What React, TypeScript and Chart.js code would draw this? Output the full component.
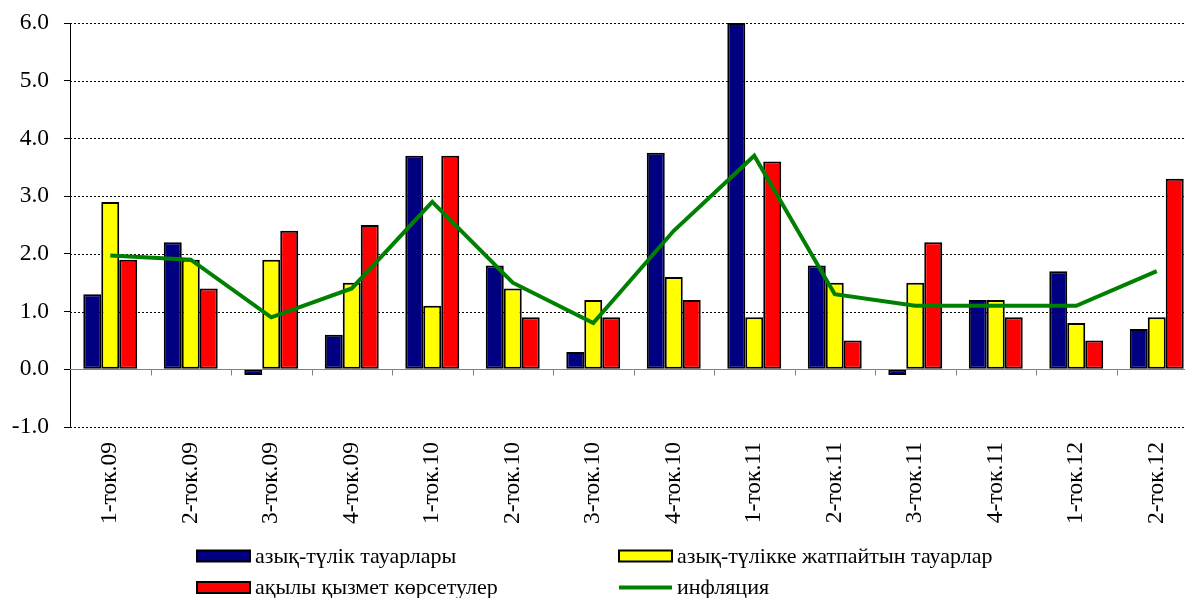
import React, { useEffect, useRef } from "react";
import { Chart, registerables } from "chart.js";

Chart.register(...registerables);

const categories = [
  "1-ток.09", "2-ток.09", "3-ток.09", "4-ток.09",
  "1-ток.10", "2-ток.10", "3-ток.10", "4-ток.10",
  "1-ток.11", "2-ток.11", "3-ток.11", "4-ток.11",
  "1-ток.12", "2-ток.12",
];
const foodGoods = [1.3, 2.2, -0.1, 0.6, 3.7, 1.8, 0.3, 3.75, 6.0, 1.8, -0.1, 1.2, 1.7, 0.7];
const nonFoodGoods = [2.9, 1.9, 1.9, 1.5, 1.1, 1.4, 1.2, 1.6, 0.9, 1.5, 1.5, 1.2, 0.8, 0.9];
const paidServices = [1.9, 1.4, 2.4, 2.5, 3.7, 0.9, 0.9, 1.2, 3.6, 0.5, 2.2, 0.9, 0.5, 3.3];
const inflation = [1.97, 1.9, 0.9, 1.4, 2.9, 1.5, 0.8, 2.4, 3.7, 1.3, 1.1, 1.1, 1.1, 1.7];
const yTicks = [-1, 0, 1, 2, 3, 4, 5, 6];

const FONT = "'Liberation Serif', 'Times New Roman', serif";

const gridPlugin = {
  id: "customGrid",
  beforeDatasetsDraw(chart: any) {
    const { ctx, chartArea, scales } = chart;
    const y = scales.y;
    ctx.save();
    ctx.lineWidth = 1;
    ctx.strokeStyle = "#000";
    ctx.setLineDash([2, 2]);
    yTicks.forEach((v) => {
      if (v === 0) return;
      const py = Math.round(y.getPixelForValue(v)) + 0.5;
      ctx.beginPath();
      ctx.moveTo(chartArea.left, py);
      ctx.lineTo(chartArea.right, py);
      ctx.stroke();
    });
    ctx.setLineDash([]);
    const y0 = Math.round(y.getPixelForValue(0)) + 0.5;
    ctx.strokeStyle = "#808080";
    ctx.beginPath();
    ctx.moveTo(chartArea.left, y0);
    ctx.lineTo(chartArea.right, y0);
    ctx.stroke();
    const n = categories.length;
    const w = (chartArea.right - chartArea.left) / n;
    for (let i = 1; i < n; i++) {
      const px = Math.round(chartArea.left + i * w) + 0.5;
      ctx.beginPath();
      ctx.moveTo(px, y0);
      ctx.lineTo(px, y0 + 6);
      ctx.stroke();
    }
    ctx.restore();
  },
};

const legendPlugin = {
  id: "customLegend",
  afterDraw(chart: any) {
    const { ctx } = chart;
    const ds = chart.data.datasets;
    const items = [
      { d: ds[1], x: 197, y: 556 },
      { d: ds[2], x: 619, y: 556 },
      { d: ds[3], x: 197, y: 587.5 },
      { d: ds[0], x: 619, y: 587.5 },
    ];
    ctx.save();
    ctx.font = `22px ${FONT}`;
    ctx.textBaseline = "middle";
    ctx.fillStyle = "#000";
    items.forEach(({ d, x, y }) => {
      if (d.type === "line") {
        ctx.strokeStyle = d.borderColor;
        ctx.lineWidth = 4;
        ctx.beginPath();
        ctx.moveTo(x, y);
        ctx.lineTo(x + 53, y);
        ctx.stroke();
      } else {
        ctx.fillStyle = d.backgroundColor;
        ctx.fillRect(x, y - 5.5, 53, 11);
        ctx.strokeStyle = "#000";
        ctx.lineWidth = 2;
        ctx.strokeRect(x, y - 5.5, 53, 11);
      }
      ctx.fillStyle = "#000";
      ctx.fillText(d.label, x + 58, y + 1);
    });
    ctx.restore();
  },
};

export default function App() {
  const ref = useRef<HTMLCanvasElement | null>(null);
  useEffect(() => {
    document.documentElement.style.overflow = "hidden";
    const canvas = ref.current;
    if (!canvas) return;
    const barCommon = {
      type: "bar" as const,
      borderColor: "#000",
      borderWidth: 2,
      borderSkipped: false,
      barPercentage: 1,
      categoryPercentage: 0.67,
      order: 1,
    };
    const chart = new Chart(canvas, {
      data: {
        labels: categories,
        datasets: [
          {
            type: "line",
            label: "инфляция",
            data: inflation,
            borderColor: "#008000",
            backgroundColor: "#008000",
            borderWidth: 4,
            pointRadius: 0,
            tension: 0,
            order: 0,
          },
          { ...barCommon, label: "азық-түлік тауарлары", data: foodGoods, backgroundColor: "#000080" },
          { ...barCommon, label: "азық-түлікке жатпайтын тауарлар", data: nonFoodGoods, backgroundColor: "#FFFF00" },
          { ...barCommon, label: "ақылы қызмет көрсетулер", data: paidServices, backgroundColor: "#FF0000" },
        ],
      } as any,
      options: {
        responsive: false,
        animation: false,
        devicePixelRatio: 1,
        layout: { padding: { top: 23, right: 3, bottom: 0, left: 0 } },
        plugins: {
          legend: { display: false },
          tooltip: { enabled: false },
        },
        scales: {
          x: {
            type: "category",
            offset: true,
            grid: { display: false, drawTicks: false },
            border: { display: false },
            ticks: {
              autoSkip: false,
              maxRotation: 90,
              minRotation: 90,
              padding: 15,
              color: "#000",
              font: { family: FONT, size: 23.5 },
            },
            afterFit: (s: any) => {
              s.height = 171;
              s.paddingTop = 0;
              s.paddingBottom = 0;
              s.paddingLeft = 0;
              s.paddingRight = 0;
            },
          },
          y: {
            min: -1,
            max: 6,
            grid: {
              display: true,
              drawOnChartArea: false,
              drawTicks: true,
              tickLength: 6,
              color: "#000",
            },
            border: { display: true, color: "#000", width: 1 },
            ticks: {
              stepSize: 1,
              padding: 15,
              color: "#000",
              font: { family: FONT, size: 23.5 },
              callback: (v: any) => Number(v).toFixed(1),
            },
            afterFit: (s: any) => {
              s.width = 70;
              s.paddingTop = 0;
              s.paddingBottom = 0;
            },
          },
        },
      } as any,
      plugins: [gridPlugin, legendPlugin],
    });
    return () => chart.destroy();
  }, []);
  return (
    <canvas
      ref={ref}
      width={1200}
      height={598}
      style={{ position: "absolute", left: 0, top: 0, width: 1200, height: 598 }}
    />
  );
}
